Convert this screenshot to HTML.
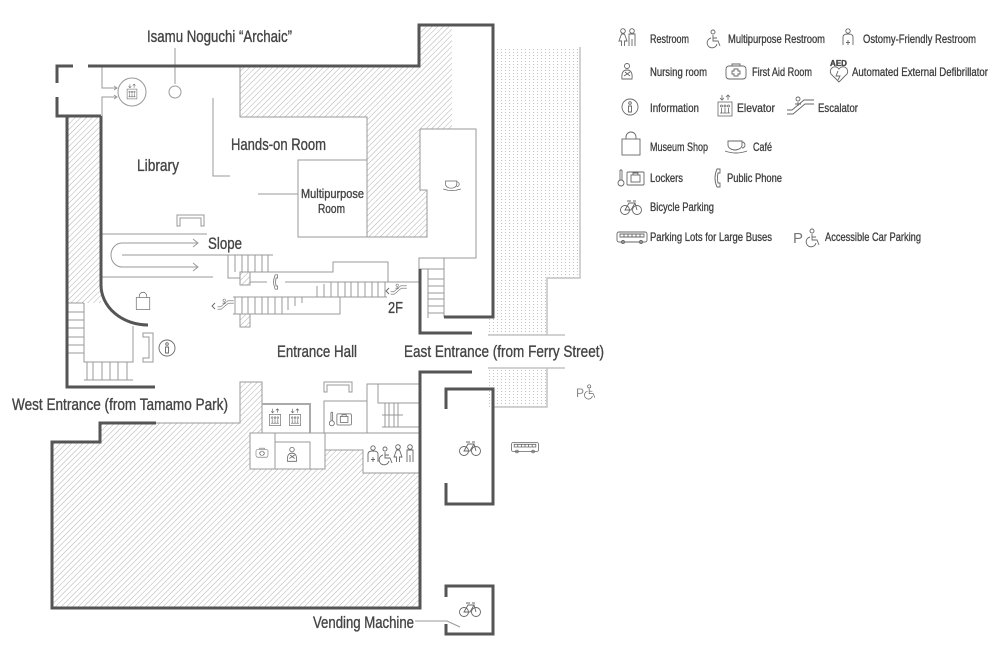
<!DOCTYPE html>
<html><head><meta charset="utf-8"><style>
html,body{margin:0;padding:0;background:#fff;}
svg{display:block;}
text{font-family:"Liberation Sans",sans-serif;fill:#444;stroke:#444;stroke-width:0.35;}
.lg text{fill:#3c3c3c;stroke:#3c3c3c;stroke-width:0.3;}
</style></head><body>
<svg width="1000" height="650" viewBox="0 0 1000 650" xmlns="http://www.w3.org/2000/svg">
<defs>
<pattern id="h" width="4" height="4" patternUnits="userSpaceOnUse" patternTransform="rotate(45)"><line x1="0" y1="0" x2="0" y2="4" stroke="#b0b0b0" stroke-width="1"/></pattern>
<pattern id="d" width="4" height="3" patternUnits="userSpaceOnUse"><rect x="1" y="1" width="1" height="1" fill="#c2c2c2"/></pattern>
<g id="bike" fill="none" stroke="#666" stroke-width="0.9"><circle cx="-6" cy="2" r="4.5"/><circle cx="6" cy="2" r="4.5"/><path d="M-6,2 L-2,-5 L4,-5 L0,2 Z M4,-5 L6,2 M-4,-7 H0 M2,-7 H5"/></g>
<g id="woman" fill="none" stroke="#666" stroke-width="0.9"><circle cx="0" cy="-7" r="2.3"/><path d="M-1.5,-4 L-4,3 H-1.5 V8 M1.5,-4 L4,3 H1.5 V8 M-1.5,-4 H1.5"/></g>
<g id="man" fill="none" stroke="#666" stroke-width="0.9"><circle cx="0" cy="-7" r="2.3"/><path d="M-3,8 V-4 H3 V8 M0,1 V8"/></g>
<g id="wc" fill="none" stroke="#666" stroke-width="0.9"><circle cx="-1" cy="-7" r="2"/><path d="M-1,-4 V2 H4 L6,7 M-1,-1 H3 M-3,-1 A5,5 0 1 0 3,5"/></g>
<g id="ost" fill="none" stroke="#666" stroke-width="0.9"><circle cx="0" cy="-7" r="2.2"/><path d="M-5,7 V-1 Q-5,-4 0,-4 Q5,-4 5,-1 V7 M0,2 V7 M-2,4.5 H2"/></g>
<g id="nurse" fill="none" stroke="#666" stroke-width="0.9"><circle cx="0" cy="-6" r="2.5"/><path d="M-5,7 Q-6,-2 0,-2 Q6,-2 5,7 Z M-3,4 L3,0 M-2,0 L3,4"/></g>
<g id="aid" fill="none" stroke="#666" stroke-width="0.9"><rect x="-10" y="-6" width="20" height="13" rx="3"/><path d="M-4,-6 V-8 H4 V-6 M-2,-3 H2 V-1 H4 V2 H2 V4 H-2 V2 H-4 V-1 H-2 Z"/></g>
<g id="info" fill="none" stroke="#666" stroke-width="0.9"><circle r="8"/><circle cx="0" cy="-4" r="1.3"/><path d="M-1.5,-1 H1.5 V5 H-1.5 Z"/></g>
<g id="elev" fill="none" stroke="#666" stroke-width="0.8"><rect x="-7" y="-7" width="14" height="14"/><circle cx="-3.5" cy="-3" r="1"/><circle cx="0" cy="-3" r="1"/><circle cx="3.5" cy="-3" r="1"/><path d="M-3.5,-1 V4 M0,-1 V4 M3.5,-1 V4 M-5,4 H5"/><path d="M-3,-14 V-9 M-5,-11 L-3,-9 L-1,-11 M3,-9 V-14 M1,-12 L3,-14 L5,-12"/></g>
<g id="esc" fill="none" stroke="#666" stroke-width="0.9"><circle cx="-3" cy="-8" r="2"/><path d="M-14,7 H-8 L4,-3 H13 M-14,3 H-9 L3,-7 H13 M-3,-5 V-1 M-6,-3 H0"/></g>
<g id="bag" fill="none" stroke="#666" stroke-width="0.9"><rect x="-9" y="-6" width="18" height="16"/><path d="M-5,-6 V-8 A5,5 0 0 1 5,-8 V-6"/></g>
<g id="cup" fill="none" stroke="#666" stroke-width="0.9"><path d="M-8,-5 H6 V-1 A7,5 0 0 1 -8,-1 Z M6,-4 A3,3 0 0 1 6,2 M-11,5 Q0,9 11,5"/></g>
<g id="phone" fill="none" stroke="#666" stroke-width="0.9"><path d="M-1,-9 H2 V-5 H0 Q-1,0 0,5 H2 V9 H-1 Q-5,0 -1,-9 Z"/></g>
<g id="lock" fill="none" stroke="#666" stroke-width="0.9"><path d="M-13,-8 V2 M-11,-8 V2 M-13,-8 H-11"/><circle cx="-12" cy="5" r="3"/><rect x="-6" y="-6" width="17" height="13" rx="1"/><rect x="-2" y="-3" width="9" height="7"/><path d="M0,-3 V-5 H5 V-3"/></g>
<g id="bus" fill="none" stroke="#666" stroke-width="0.9"><rect x="-15" y="-5" width="30" height="10" rx="2"/><path d="M-12,-3 H12 V0 H-12 Z M-8,-3 V0 M-4,-3 V0 M0,-3 V0 M4,-3 V0 M8,-3 V0"/><circle cx="-9" cy="5" r="1.5"/><circle cx="9" cy="5" r="1.5"/></g>
</defs>

<!-- hatched areas -->
<polygon points="240,66 419,66 419,25 452,25 452,129 420,129 420,190 427,190 427,237 367,237 367,117 240,117" fill="url(#h)"/>
<path d="M240,66 V117 H367 V237 H427 V190 H420 V129" fill="none" stroke="#999" stroke-width="1"/>
<g fill="url(#h)" stroke="#999" stroke-width="1">
<polygon points="67,116 101,116 101,303 67,303" stroke="none"/>
<polygon points="52,442 100,442 100,423 240,423 240,382 262,382 262,433 250,433 250,469 325,469 325,450 363,450 363,473 421,473 421,608 52,608"/>
<rect x="240" y="272" width="10" height="13"/>
<rect x="240" y="314" width="10" height="13"/>
</g>

<!-- dotted areas -->
<polygon points="495,47 580,47 580,278 547,278 547,335 488,335 488,317 495,317" fill="url(#d)"/>
<rect x="488" y="368" width="59" height="39" fill="url(#d)"/>
<g stroke="#c4c4c4" stroke-width="1.5" fill="none">
<path d="M580,47 V278 H547 V335"/>
<path d="M488,335 H565"/>
<path d="M488,368 H565 M547,368 V407 H493"/>
</g>

<!-- thin lines -->
<g stroke="#999" stroke-width="1" fill="none">
<path d="M102,66 V88 H117 M114,86 L117,88 L114,90 M102,116 V97 H117 M114,95 L117,97 L114,99"/>
<circle cx="132" cy="92" r="14"/>
<path d="M175,48 V84"/>
<circle cx="175" cy="92" r="6"/>
<path d="M213,98 V176 H230"/>
<path d="M367,160 H298 V237 H367 M258,194 H298"/>
<path d="M420,129 H476 V258 H444 M419,258 H444 V269 H419 Z M444,258 V317"/>
<path d="M428,269 V318 M428,279 H444 M428,286 H444 M428,293 H444 M428,299 H444 M428,306 H444 M428,313 H444"/>
<path d="M101,234 H207 M101,277 H213 M122,255 H273"/>
<path d="M122,243 A11,12 0 0 0 122,267"/>
<path d="M122,243 H198 M193,239 L198,243 L193,247 M122,267 H198 M193,263 L198,267 L193,271"/>
<path d="M177,226 V215 H204 V226 H201 V218 H180 V226 Z"/>
<path d="M228,255 V278 H240 M235,255 V272 M242,255 V272 M248,255 V272 M255,255 V272 M262,255 V272 M268,255 V272"/>
<path d="M250,272 H333 V262 H388 V282"/>
<path d="M250,282 H267 M285,282 H420"/>
<path d="M317,286 V297 M324,284 V297 M331,282 V297 M338,282 V297 M345,282 V297 M351,282 V297 M358,282 V297 M365,282 V297 M372,282 V297 M378,282 V297 M385,282 V297"/>
<path d="M233,297 H387 M233,314 H340 V297"/>
<path d="M235,297 V314 M242,297 V314 M248,297 V314 M255,297 V314 M262,297 V314 M268,297 V314 M275,297 V314 M282,297 V314 M288,297 V310 M295,297 V306 M302,297 V303"/>
<path d="M67,303 H84 M67,312 H84 M67,320 H84 M67,328 H84 M67,337 H84 M67,345 H84 M67,353 H84"/>
<path d="M84,303 V362 H133 V326 M84,380 H133"/>
<path d="M87,362 V380 M93,362 V380 M102,362 V380 M110,362 V380 M118,362 V380 M127,362 V380"/>
<path d="M143,333 H153 V362 H143 V358 H149 V337 H143 Z"/>
<path d="M156,423 H240"/>
<path d="M262,404 H310 V433" stroke="#aaa" stroke-width="2"/>
<path d="M250,433 H325 V469 M275,433 V469 M275,442 H310 V469"/>
<path d="M324,392 V382 H352 V392 H349 V385 H327 V392 Z"/>
<path d="M324,433 V401 H367 V433 M324,433 H420"/>
<path d="M367,401 V384 H420 M378,384 V403 H420 M385,403 V427 M389,403 V427 M394,403 V427 M398,403 V427 M382,415 H403 M382,427 H420"/>
<path d="M415,621 H447 L460,627"/>
</g>

<!-- thick walls -->
<g stroke="#555" stroke-width="3" fill="none">
<path d="M73,66 H57 V83 M57,97 V116 H101"/>
<path d="M88,66 H419 V25 H493 V317 H444"/>
<path d="M67,116 V387 H155"/>
<path d="M101,116 V285 A47,40 0 0 0 148,325"/>
<path d="M420,269 V333 H472"/>
<path d="M472,372 H420 V608 H52 V442 H100 V423 H156"/>
<path d="M446,409 V389 H493 V504 H446 V483"/>
<path d="M446,597 V586 H493 V634 H446 V624"/>
</g>

<!-- map icons -->
<use href="#elev" transform="translate(132,94) scale(0.7)"/>
<use href="#bag" transform="translate(143,302) scale(0.75)"/>
<use href="#info" x="167" y="348"/>
<use href="#cup" transform="translate(452,185) scale(0.8)"/>
<use href="#phone" transform="translate(276,282) scale(0.8)"/>
<use href="#esc" transform="translate(226,305) scale(0.6)"/>
<path d="M215,303 L212,306 L215,309" stroke="#666" fill="none" stroke-width="0.9"/>
<use href="#esc" transform="translate(399,290) scale(0.6)"/>
<path d="M389,288 L386,291 L389,294" stroke="#666" fill="none" stroke-width="0.9"/>
<use href="#elev" transform="translate(275,420) scale(0.8)"/>
<use href="#elev" transform="translate(295,420) scale(0.8)"/>
<use href="#aid" transform="translate(262,453) scale(0.6)"/>
<use href="#nurse" transform="translate(292,455) scale(0.9)"/>
<use href="#lock" transform="translate(342,419) scale(0.85)"/>
<use href="#ost" x="373" y="455"/>
<use href="#wc" x="386" y="456"/>
<use href="#woman" x="398" y="454"/>
<use href="#man" x="410" y="454"/>
<use href="#bike" x="470" y="449"/>
<use href="#bike" x="470" y="610"/>
<use href="#bus" transform="translate(525,447) scale(0.9)"/>
<text x="576" y="397" font-size="12" style="fill:#888;stroke:none">P</text>
<use href="#wc" transform="translate(590,392) scale(0.8)"/>

<!-- map labels -->
<text x="147" y="42" font-size="17" textLength="145" lengthAdjust="spacingAndGlyphs">Isamu Noguchi “Archaic”</text>
<text x="137" y="171" font-size="17" textLength="42" lengthAdjust="spacingAndGlyphs">Library</text>
<text x="231" y="150" font-size="17" textLength="95" lengthAdjust="spacingAndGlyphs">Hands-on Room</text>
<text x="301" y="198" font-size="13" textLength="63" lengthAdjust="spacingAndGlyphs">Multipurpose</text>
<text x="318" y="213" font-size="13" textLength="27" lengthAdjust="spacingAndGlyphs">Room</text>
<text x="208" y="249" font-size="17" textLength="34" lengthAdjust="spacingAndGlyphs">Slope</text>
<text x="388" y="313" font-size="16" textLength="15" lengthAdjust="spacingAndGlyphs">2F</text>
<text x="277" y="357" font-size="17" textLength="80" lengthAdjust="spacingAndGlyphs">Entrance Hall</text>
<text x="404" y="357" font-size="17" textLength="200" lengthAdjust="spacingAndGlyphs">East Entrance (from Ferry Street)</text>
<text x="12" y="410" font-size="17" textLength="216" lengthAdjust="spacingAndGlyphs">West Entrance (from Tamamo Park)</text>
<text x="313" y="628" font-size="17" textLength="101" lengthAdjust="spacingAndGlyphs">Vending Machine</text>

<!-- legend icons -->
<use href="#woman" x="623" y="38"/>
<use href="#man" x="632" y="38"/>
<use href="#wc" x="714" y="39"/>
<use href="#ost" x="848" y="38"/>
<use href="#nurse" x="627" y="72"/>
<use href="#aid" x="736" y="72"/>
<text x="830" y="66" font-size="8" font-weight="bold" textLength="17" lengthAdjust="spacingAndGlyphs">AED</text>
<path d="M839,82 L831,74 A4,4 0 0 1 839,69 A4,4 0 0 1 847,74 Z M838,71 L836,76 H840 L838,80" fill="none" stroke="#666" stroke-width="0.9"/>
<use href="#info" x="630" y="107"/>
<use href="#elev" x="725" y="109"/>
<use href="#esc" x="801" y="107"/>
<use href="#bag" x="631" y="145"/>
<use href="#cup" x="736" y="146"/>
<use href="#lock" x="633" y="178"/>
<use href="#phone" x="718" y="178"/>
<use href="#bike" x="631" y="208"/>
<use href="#bus" x="632" y="237"/>
<text x="793" y="243" font-size="15" style="fill:#777;stroke:none">P</text>
<use href="#wc" x="813" y="238"/>

<!-- legend text -->
<g font-size="12" class="lg">
<text x="650" y="43" textLength="39" lengthAdjust="spacingAndGlyphs">Restroom</text>
<text x="728" y="43" textLength="97" lengthAdjust="spacingAndGlyphs">Multipurpose Restroom</text>
<text x="863" y="43" textLength="113" lengthAdjust="spacingAndGlyphs">Ostomy-Friendly Restroom</text>
<text x="650" y="76" textLength="57" lengthAdjust="spacingAndGlyphs">Nursing room</text>
<text x="752" y="76" textLength="60" lengthAdjust="spacingAndGlyphs">First Aid Room</text>
<text x="852" y="76" textLength="136" lengthAdjust="spacingAndGlyphs">Automated External Defibrillator</text>
<text x="650" y="112" textLength="49" lengthAdjust="spacingAndGlyphs">Information</text>
<text x="737" y="112" textLength="38" lengthAdjust="spacingAndGlyphs">Elevator</text>
<text x="818" y="112" textLength="40" lengthAdjust="spacingAndGlyphs">Escalator</text>
<text x="650" y="151" textLength="58" lengthAdjust="spacingAndGlyphs">Museum Shop</text>
<text x="753" y="151" textLength="19" lengthAdjust="spacingAndGlyphs">Café</text>
<text x="650" y="182" textLength="33" lengthAdjust="spacingAndGlyphs">Lockers</text>
<text x="727" y="182" textLength="55" lengthAdjust="spacingAndGlyphs">Public Phone</text>
<text x="650" y="211" textLength="64" lengthAdjust="spacingAndGlyphs">Bicycle Parking</text>
<text x="650" y="241" textLength="122" lengthAdjust="spacingAndGlyphs">Parking Lots for Large Buses</text>
<text x="825" y="241" textLength="96" lengthAdjust="spacingAndGlyphs">Accessible Car Parking</text>
</g>
</svg>
</body></html>
